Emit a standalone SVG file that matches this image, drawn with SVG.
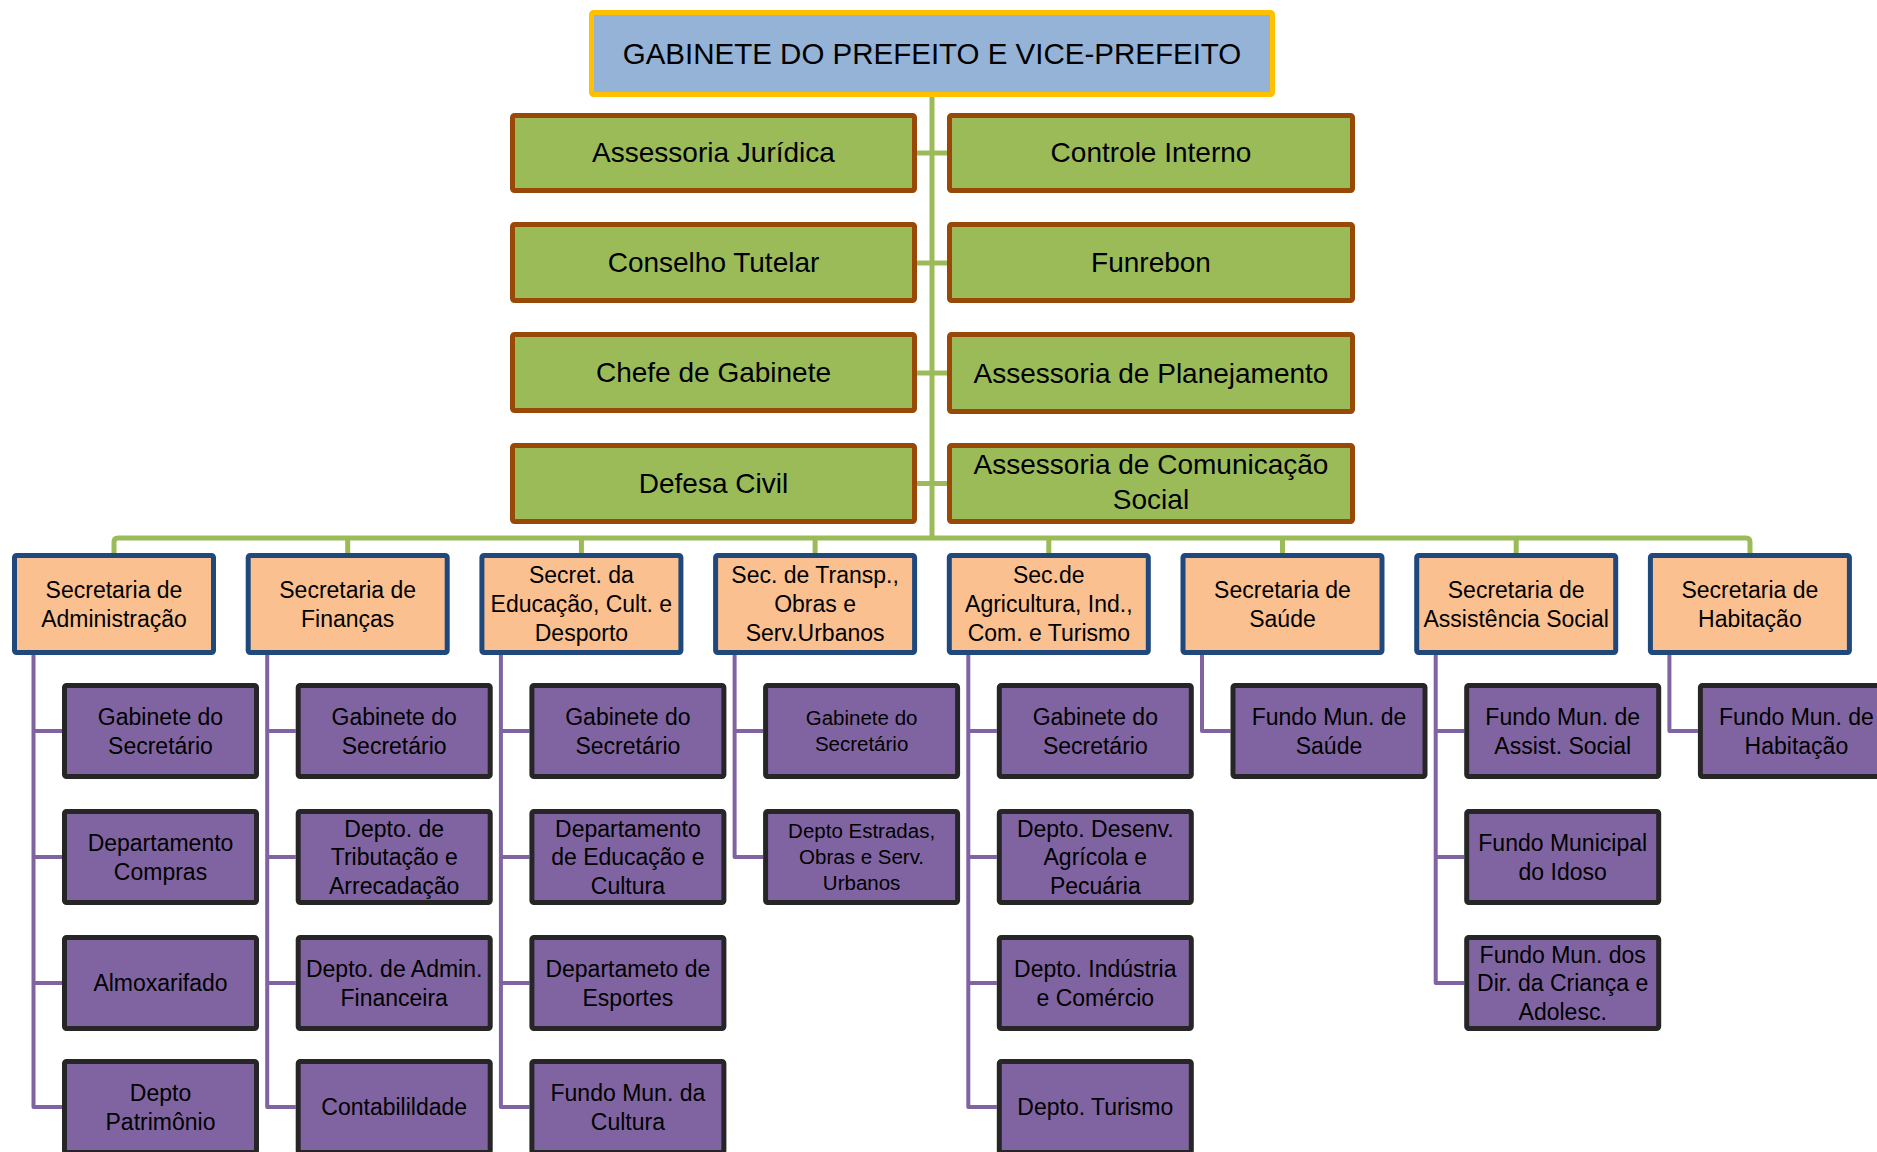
<svg xmlns="http://www.w3.org/2000/svg" width="1877" height="1152" viewBox="0 0 1877 1152">
<style>
text{font-family:"Liberation Sans",Arial,sans-serif;fill:#000;text-anchor:middle}
.top{fill:#95B3D7;stroke:#FFC000;stroke-width:5}
.grn{fill:#9BBB59;stroke:#984807;stroke-width:5}
.org{fill:#FAC090;stroke:#1F497D;stroke-width:5}
.pur{fill:#8064A2;stroke:#262626;stroke-width:5}
.tt{font-size:29.5px}
.tg{font-size:28px}
.to{font-size:23px}
.tp{font-size:23px}
.ts{font-size:20.5px}
.cg{fill:none;stroke:#9BBB59;stroke-width:5;stroke-linejoin:round}
.cp{fill:none;stroke:#8064A2;stroke-width:4;stroke-linejoin:round}
</style>
<rect width="1877" height="1152" fill="#fff"/>
<g id="connectors">
<path class="cg" d="M932,97 V538"/>
<path class="cg" d="M917,153 H947 M917,263 H947 M917,373 H947 M917,483.5 H947"/>
<path class="cg" d="M114,553 V542 Q114,538 118,538 H1746 Q1750,538 1750,542 V553"/>
<path class="cg" d="M347.7,538 V553 M581.4,538 V553 M815.1,538 V553 M1048.8,538 V553 M1282.5,538 V553 M1516.2,538 V553"/>
<path class="cp" d="M33.5,655 V1107 H62 M33.5,731 H62 M33.5,857 H62 M33.5,983 H62"/>
<path class="cp" d="M267.2,655 V1107 H295.7 M267.2,731 H295.7 M267.2,857 H295.7 M267.2,983 H295.7"/>
<path class="cp" d="M500.9,655 V1107 H529.4 M500.9,731 H529.4 M500.9,857 H529.4 M500.9,983 H529.4"/>
<path class="cp" d="M734.6,655 V857 H763.1 M734.6,731 H763.1"/>
<path class="cp" d="M968.3,655 V1107 H996.8 M968.3,731 H996.8 M968.3,857 H996.8 M968.3,983 H996.8"/>
<path class="cp" d="M1202,655 V731 H1230.5"/>
<path class="cp" d="M1435.7,655 V983 H1464.2 M1435.7,731 H1464.2 M1435.7,857 H1464.2"/>
<path class="cp" d="M1669.4,655 V731 H1697.9"/>
</g>
<g id="gabinete"><rect class="top" x="591.5" y="12.5" width="681" height="82" rx="2"/><text class="tt" x="932" y="64">GABINETE DO PREFEITO E VICE-PREFEITO</text></g>
<g id="assessoria-juridica"><rect class="grn" x="512.5" y="115.5" width="402" height="75" rx="2"/><text class="tg" x="713.5" y="162">Assessoria Jurídica</text></g>
<g id="controle-interno"><rect class="grn" x="949.5" y="115.5" width="403" height="75" rx="2"/><text class="tg" x="1151" y="162">Controle Interno</text></g>
<g id="conselho-tutelar"><rect class="grn" x="512.5" y="224.5" width="402" height="76" rx="2"/><text class="tg" x="713.5" y="272">Conselho Tutelar</text></g>
<g id="funrebon"><rect class="grn" x="949.5" y="224.5" width="403" height="76" rx="2"/><text class="tg" x="1151" y="272">Funrebon</text></g>
<g id="chefe-gabinete"><rect class="grn" x="512.5" y="334.5" width="402" height="76" rx="2"/><text class="tg" x="713.5" y="382">Chefe de Gabinete</text></g>
<g id="assessoria-planejamento"><rect class="grn" x="949.5" y="334.5" width="403" height="77" rx="2"/><text class="tg" x="1151" y="383">Assessoria de Planejamento</text></g>
<g id="defesa-civil"><rect class="grn" x="512.5" y="445.5" width="402" height="76" rx="2"/><text class="tg" x="713.5" y="492.5">Defesa Civil</text></g>
<g id="assessoria-comunicacao"><rect class="grn" x="949.5" y="445.5" width="403" height="76" rx="2"/><text class="tg" x="1151" y="474">Assessoria de Comunicação<tspan x="1151" y="509">Social</tspan></text></g>

<g id="sec-administracao"><rect class="org" x="14.5" y="555.5" width="199" height="97" rx="2"/><text class="to" x="114" y="598">Secretaria de<tspan x="114" y="627">Administração</tspan></text></g>
<g id="sec-financas"><rect class="org" x="248.2" y="555.5" width="199" height="97" rx="2"/><text class="to" x="347.7" y="598">Secretaria de<tspan x="347.7" y="627">Finanças</tspan></text></g>
<g id="sec-educacao"><rect class="org" x="481.9" y="555.5" width="199" height="97" rx="2"/><text class="to" x="581.4" y="583">Secret. da<tspan x="581.4" y="612">Educação, Cult. e</tspan><tspan x="581.4" y="641">Desporto</tspan></text></g>
<g id="sec-transportes"><rect class="org" x="715.6" y="555.5" width="199" height="97" rx="2"/><text class="to" x="815.1" y="583">Sec. de Transp.,<tspan x="815.1" y="612">Obras e</tspan><tspan x="815.1" y="641">Serv.Urbanos</tspan></text></g>
<g id="sec-agricultura"><rect class="org" x="949.3" y="555.5" width="199" height="97" rx="2"/><text class="to" x="1048.8" y="583">Sec.de<tspan x="1048.8" y="612">Agricultura, Ind.,</tspan><tspan x="1048.8" y="641">Com. e Turismo</tspan></text></g>
<g id="sec-saude"><rect class="org" x="1183" y="555.5" width="199" height="97" rx="2"/><text class="to" x="1282.5" y="598">Secretaria de<tspan x="1282.5" y="627">Saúde</tspan></text></g>
<g id="sec-assistencia"><rect class="org" x="1416.7" y="555.5" width="199" height="97" rx="2"/><text class="to" x="1516.2" y="598">Secretaria de<tspan x="1516.2" y="627">Assistência Social</tspan></text></g>
<g id="sec-habitacao"><rect class="org" x="1650.4" y="555.5" width="199" height="97" rx="2"/><text class="to" x="1749.9" y="598">Secretaria de<tspan x="1749.9" y="627">Habitação</tspan></text></g>

<g id="adm-gabinete"><rect class="pur" x="64.5" y="685.5" width="192" height="91" rx="2"/><text class="tp" x="160.5" y="725">Gabinete do<tspan x="160.5" y="753.5">Secretário</tspan></text></g>
<g id="adm-compras"><rect class="pur" x="64.5" y="811.5" width="192" height="91" rx="2"/><text class="tp" x="160.5" y="851">Departamento<tspan x="160.5" y="879.5">Compras</tspan></text></g>
<g id="adm-almoxarifado"><rect class="pur" x="64.5" y="937.5" width="192" height="91" rx="2"/><text class="tp" x="160.5" y="991">Almoxarifado</text></g>
<g id="adm-patrimonio"><rect class="pur" x="64.5" y="1061.5" width="192" height="91" rx="2"/><text class="tp" x="160.5" y="1101">Depto<tspan x="160.5" y="1129.5">Patrimônio</tspan></text></g>

<g id="fin-gabinete"><rect class="pur" x="298.2" y="685.5" width="192" height="91" rx="2"/><text class="tp" x="394.2" y="725">Gabinete do<tspan x="394.2" y="753.5">Secretário</tspan></text></g>
<g id="fin-tributacao"><rect class="pur" x="298.2" y="811.5" width="192" height="91" rx="2"/><text class="tp" x="394.2" y="836.5">Depto. de<tspan x="394.2" y="865">Tributação e</tspan><tspan x="394.2" y="893.5">Arrecadação</tspan></text></g>
<g id="fin-admin"><rect class="pur" x="298.2" y="937.5" width="192" height="91" rx="2"/><text class="tp" x="394.2" y="977">Depto. de Admin.<tspan x="394.2" y="1005.5">Financeira</tspan></text></g>
<g id="fin-contabilidade"><rect class="pur" x="298.2" y="1061.5" width="192" height="91" rx="2"/><text class="tp" x="394.2" y="1115">Contabilildade</text></g>

<g id="edu-gabinete"><rect class="pur" x="531.9" y="685.5" width="192" height="91" rx="2"/><text class="tp" x="627.9" y="725">Gabinete do<tspan x="627.9" y="753.5">Secretário</tspan></text></g>
<g id="edu-educacao"><rect class="pur" x="531.9" y="811.5" width="192" height="91" rx="2"/><text class="tp" x="627.9" y="836.5">Departamento<tspan x="627.9" y="865">de Educação e</tspan><tspan x="627.9" y="893.5">Cultura</tspan></text></g>
<g id="edu-esportes"><rect class="pur" x="531.9" y="937.5" width="192" height="91" rx="2"/><text class="tp" x="627.9" y="977">Departameto de<tspan x="627.9" y="1005.5">Esportes</tspan></text></g>
<g id="edu-fundo-cultura"><rect class="pur" x="531.9" y="1061.5" width="192" height="91" rx="2"/><text class="tp" x="627.9" y="1101">Fundo Mun. da<tspan x="627.9" y="1129.5">Cultura</tspan></text></g>

<g id="tra-gabinete"><rect class="pur" x="765.6" y="685.5" width="192" height="91" rx="2"/><text class="ts" x="861.6" y="725">Gabinete do<tspan x="861.6" y="751">Secretário</tspan></text></g>
<g id="tra-estradas"><rect class="pur" x="765.6" y="811.5" width="192" height="91" rx="2"/><text class="ts" x="861.6" y="838">Depto Estradas,<tspan x="861.6" y="864">Obras e Serv.</tspan><tspan x="861.6" y="890">Urbanos</tspan></text></g>

<g id="agr-gabinete"><rect class="pur" x="999.3" y="685.5" width="192" height="91" rx="2"/><text class="tp" x="1095.3" y="725">Gabinete do<tspan x="1095.3" y="753.5">Secretário</tspan></text></g>
<g id="agr-agricola"><rect class="pur" x="999.3" y="811.5" width="192" height="91" rx="2"/><text class="tp" x="1095.3" y="836.5">Depto. Desenv.<tspan x="1095.3" y="865">Agrícola e</tspan><tspan x="1095.3" y="893.5">Pecuária</tspan></text></g>
<g id="agr-industria"><rect class="pur" x="999.3" y="937.5" width="192" height="91" rx="2"/><text class="tp" x="1095.3" y="977">Depto. Indústria<tspan x="1095.3" y="1005.5">e Comércio</tspan></text></g>
<g id="agr-turismo"><rect class="pur" x="999.3" y="1061.5" width="192" height="91" rx="2"/><text class="tp" x="1095.3" y="1115">Depto. Turismo</text></g>

<g id="sau-fundo"><rect class="pur" x="1233" y="685.5" width="192" height="91" rx="2"/><text class="tp" x="1329" y="725">Fundo Mun. de<tspan x="1329" y="753.5">Saúde</tspan></text></g>

<g id="ass-fundo"><rect class="pur" x="1466.7" y="685.5" width="192" height="91" rx="2"/><text class="tp" x="1562.7" y="725">Fundo Mun. de<tspan x="1562.7" y="753.5">Assist. Social</tspan></text></g>
<g id="ass-idoso"><rect class="pur" x="1466.7" y="811.5" width="192" height="91" rx="2"/><text class="tp" x="1562.7" y="851">Fundo Municipal<tspan x="1562.7" y="879.5">do Idoso</tspan></text></g>
<g id="ass-crianca"><rect class="pur" x="1466.7" y="937.5" width="192" height="91" rx="2"/><text class="tp" x="1562.7" y="962.5">Fundo Mun. dos<tspan x="1562.7" y="991">Dir. da Criança e</tspan><tspan x="1562.7" y="1019.5">Adolesc.</tspan></text></g>

<g id="hab-fundo"><rect class="pur" x="1700.4" y="685.5" width="192" height="91" rx="2"/><text class="tp" x="1796.4" y="725">Fundo Mun. de<tspan x="1796.4" y="753.5">Habitação</tspan></text></g>
</svg>
